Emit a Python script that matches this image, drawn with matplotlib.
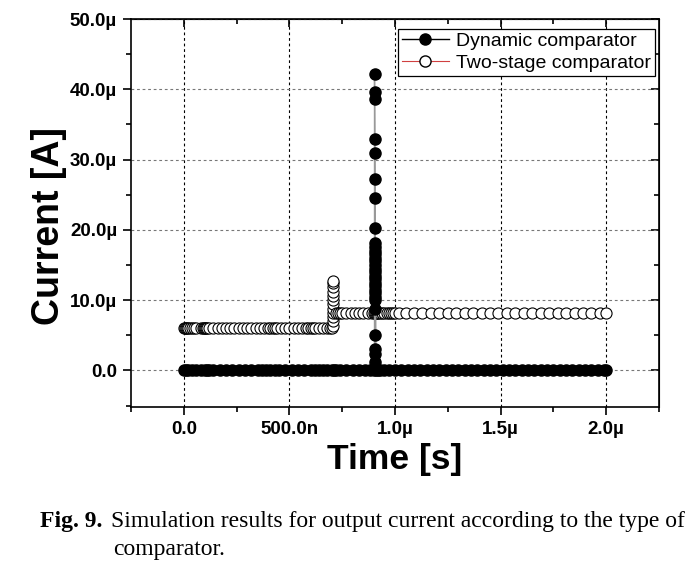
import matplotlib
matplotlib.use('Agg')
import matplotlib.pyplot as plt
from matplotlib.lines import Line2D

plt.rcParams['font.family'] = ['Liberation Sans', 'DejaVu Sans']

# time in microseconds, current in microamps
dyn_t = [0.0, 0.01, 0.02, 0.04, 0.06, 0.08, 0.10, 0.11, 0.12, 0.14, 0.17, 0.20,
         0.23, 0.26, 0.29, 0.32, 0.35, 0.37, 0.39, 0.41, 0.43, 0.45, 0.48, 0.51,
         0.54, 0.57, 0.60, 0.62, 0.64, 0.66, 0.68, 0.70, 0.71, 0.72, 0.74, 0.77,
         0.80, 0.83, 0.86, 0.88, 0.90,
         0.903, 0.903, 0.903, 0.903, 0.903, 0.903, 0.903, 0.903, 0.903, 0.903,
         0.903, 0.903, 0.903, 0.903, 0.903, 0.903, 0.903, 0.903, 0.903, 0.903,
         0.903, 0.903, 0.903, 0.903, 0.903, 0.903, 0.903, 0.903, 0.903, 0.903,
         0.903,
         0.91, 0.92, 0.93, 0.95, 0.97, 1.00, 1.03, 1.06, 1.09, 1.12, 1.15, 1.18,
         1.21, 1.24, 1.27, 1.30, 1.33, 1.36, 1.39, 1.42, 1.45, 1.48, 1.51, 1.54,
         1.57, 1.60, 1.63, 1.66, 1.69, 1.72, 1.75, 1.78, 1.81, 1.84, 1.87, 1.90,
         1.93, 1.96, 1.99, 2.00]
dyn_i = [0.0] * 41 + [
    0.4, 1.2, 2.4, 3.0, 5.0, 8.8, 10.0, 10.5, 11.0, 11.5, 12.0, 12.5, 13.0,
    13.5, 14.0, 14.5, 15.0, 15.5, 16.0, 16.5, 17.0, 17.5, 18.1, 20.2, 24.6,
    27.3, 31.0, 33.0, 38.6, 39.6, 42.2] + [0.0] * 40

two_t = [0.0, 0.005, 0.01, 0.015, 0.02, 0.03, 0.04, 0.05, 0.06, 0.08, 0.09,
         0.095, 0.10, 0.105, 0.11, 0.12, 0.14, 0.16, 0.18, 0.20, 0.22, 0.24,
         0.26, 0.28, 0.30, 0.32, 0.34, 0.36, 0.38, 0.40, 0.41, 0.42, 0.43,
         0.44, 0.46, 0.48, 0.50, 0.52, 0.54, 0.56, 0.58, 0.59, 0.60, 0.61,
         0.62, 0.64, 0.66, 0.68, 0.69, 0.70,
         0.705, 0.705, 0.705, 0.705, 0.705, 0.705, 0.705, 0.705, 0.705, 0.705,
         0.705, 0.705,
         0.72, 0.73, 0.74, 0.75, 0.77, 0.79, 0.81, 0.83, 0.85, 0.87, 0.89,
         0.90, 0.905, 0.91, 0.915, 0.92, 0.93, 0.94, 0.95, 0.96, 0.97, 0.98,
         0.99, 1.00, 1.02, 1.05, 1.09, 1.13, 1.17, 1.21, 1.25, 1.29, 1.33,
         1.37, 1.41, 1.45, 1.49, 1.53, 1.57, 1.61, 1.65, 1.69, 1.73, 1.77,
         1.81, 1.85, 1.89, 1.93, 1.97, 2.00]
two_i = [6.1] * 50 + [
    6.3, 7.0, 7.6, 8.2, 8.8, 9.4, 10.0, 10.6, 11.2, 11.8, 12.4, 12.7] + [8.1] * 50

x_ticks = [0.0, 0.5, 1.0, 1.5, 2.0]
x_ticklabels = ['0.0', '500.0n', '1.0\u00b5', '1.5\u00b5', '2.0\u00b5']
y_ticks = [0, 10, 20, 30, 40, 50]
y_ticklabels = ['0.0', '10.0\u00b5', '20.0\u00b5', '30.0\u00b5', '40.0\u00b5', '50.0\u00b5']
legend_labels = ['Dynamic comparator', 'Two-stage comparator']

fig = plt.figure(figsize=(6.98, 5.68), dpi=100)
ax = fig.add_axes([0.1877, 0.2835, 0.7564, 0.683])

ax.plot(two_t, two_i, linestyle='none', marker='o', ms=8, mfc='white',
        mec='black', mew=0.8, zorder=3)
ax.plot(dyn_t, dyn_i, color='#999999', lw=1, marker='o', ms=8,
        mfc='black', mec='black', zorder=4)

ax.set_xlim(-0.25, 2.25)
ax.set_ylim(-5.2, 50)
ax.set_xticks(x_ticks)
ax.set_xticklabels(x_ticklabels)
ax.set_yticks(y_ticks)
ax.set_yticklabels(y_ticklabels)
ax.set_xticks([-0.25, 0.25, 0.75, 1.25, 1.75, 2.25], minor=True)
ax.set_yticks([-5, 5, 15, 25, 35, 45], minor=True)
for lab in ax.get_xticklabels() + ax.get_yticklabels():
    lab.set_fontweight('bold')
ax.tick_params(which='major', direction='out', length=6, width=1.2,
               labelsize=13.5, pad=4)
ax.tick_params(which='minor', direction='out', length=3.5, width=1.2)
for s in ax.spines.values():
    s.set_linewidth(1.2)

# inward ticks on top and right
top = ax.secondary_xaxis('top')
top.set_xticks(x_ticks)
top.set_xticks([0.25, 0.75, 1.25, 1.75], minor=True)
top.tick_params(which='both', direction='in', labeltop=False, width=1.2)
top.tick_params(which='major', length=6)
top.tick_params(which='minor', length=3.5)
right = ax.secondary_yaxis('right')
right.set_yticks(y_ticks)
right.set_yticks([5, 15, 25, 35, 45], minor=True)
right.tick_params(which='both', direction='in', labelright=False, width=1.2)
right.tick_params(which='major', length=6)
right.tick_params(which='minor', length=3.5)

ax.grid(True, axis='x', color='black', linestyle=(0, (2.5, 2.5)), lw=0.8)
ax.grid(True, axis='y', color='#777777', linestyle=(0, (2.5, 2.5)), lw=0.8)
ax.set_axisbelow(True)

ax.set_xlabel('Time [s]', fontsize=25.5, fontweight='bold')
ax.set_ylabel('Current [A]', fontsize=27, fontweight='bold')
ax.xaxis.set_label_coords(0.5, -0.093)
ax.yaxis.set_label_coords(-0.122, 0.467)

handles = [
    Line2D([], [], color='black', lw=1, marker='o', ms=8, mfc='black', mec='black'),
    Line2D([], [], color='#d04040', lw=0.8, marker='o', ms=8, mfc='white', mec='black'),
]
leg = ax.legend(handles, legend_labels, loc='upper right',
                bbox_to_anchor=(0.993, 0.975), borderaxespad=0, fontsize=14,
                handlelength=2.4, fancybox=False, edgecolor='black',
                framealpha=1, borderpad=0.2, labelspacing=0.2, handletextpad=0.4)
leg.get_frame().set_linewidth(0.9)

fig.text(40 / 698, 1 - 522 / 568, 'Fig. 9.', fontsize=17, fontweight='bold',
         family='Liberation Serif', va='center')
fig.text(111 / 698, 1 - 522 / 568,
         'Simulation results for output current according to the type of',
         fontsize=17, family='Liberation Serif', va='center')
fig.text(113 / 698, 1 - 549 / 568, 'comparator.', fontsize=17,
         family='Liberation Serif', va='center')

fig.savefig('out.png', dpi=100)
